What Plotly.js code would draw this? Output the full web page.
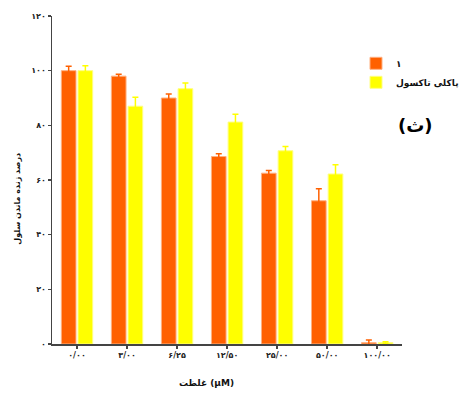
<!DOCTYPE html>
<html><head><meta charset="utf-8">
<script src="https://cdn.plot.ly/plotly-3.0.1.min.js"></script>
<style>html,body{margin:0;padding:0;background:#fff;}#chart{width:464px;height:393px;}</style>
</head><body><div id="chart"></div>
<script>
const categories = ["۰/۰۰", "۳/۰۰", "۶/۲۵", "۱۲/۵۰", "۲۵/۰۰", "۵۰/۰۰", "۱۰۰/۰۰"];
const series1Name = "۱";
const series1Values = [100, 98, 90, 68.6, 62.5, 52.4, 0.5];
const series1Errors = [1.6, 0.7, 1.5, 1.0, 1.0, 4.4, 1.0];
const series2Name = "پاکلی تاکسول";
const series2Values = [100, 87, 93.4, 81.2, 70.7, 62.2, 0.5];
const series2Errors = [1.8, 3.3, 2.1, 2.9, 1.6, 3.4, 0.3];
const yTickVals = [0, 20, 40, 60, 80, 100, 120];
const yTickText = ["۰", "۲۰", "۴۰", "۶۰", "۸۰", "۱۰۰", "۱۲۰"];
const xTitle = "غلظت (μM)";
const yTitle = "درصد زنده ماندن سلول";
const panelLabel = "(ث)";

const fontFam = "DejaVu Sans, sans-serif";
const orange = "#FF6000", yellow = "#FFFF00";

const traces = [
  {type: "bar", name: series1Name, x: categories, y: series1Values,
   marker: {color: orange, line: {color: "#FFB080", width: 1}},
   error_y: {type: "data", array: series1Errors, visible: true, color: orange, thickness: 1.5, width: 3}},
  {type: "bar", name: series2Name, x: categories, y: series2Values,
   marker: {color: yellow, line: {color: "#FFFF80", width: 1}},
   error_y: {type: "data", array: series2Errors, visible: true, color: yellow, thickness: 1.5, width: 3}}
];

const layout = {
  width: 464, height: 393,
  margin: {l: 52, r: 0, t: 16, b: 49},
  paper_bgcolor: "#fff", plot_bgcolor: "#fff",
  barmode: "group", bargap: 0.333, bargroupgap: 0.12,
  showlegend: true,
  legend: {x: 0.755, y: 0.9, xanchor: "left", yanchor: "top", bgcolor: "rgba(0,0,0,0)",
    font: {family: fontFam, size: 9, color: "#111", weight: "bold"}, tracegroupgap: 0, itemwidth: 30},
  xaxis: {domain: [0, 0.869], type: "category", range: [-0.5, 6.5], showline: true, linecolor: "#444", linewidth: 1.5,
    ticks: "outside", ticklen: 3, tickcolor: "#444", tickwidth: 1.5,
    tickfont: {family: fontFam, size: 8, color: "#222", weight: "bold"}, showgrid: false, zeroline: false, fixedrange: true},
  yaxis: {range: [0, 120], tickvals: yTickVals, ticktext: yTickText, showline: true, linecolor: "#444", linewidth: 1.5,
    ticks: "outside", ticklen: 3, tickcolor: "#444", tickwidth: 1.5,
    tickfont: {family: fontFam, size: 8, color: "#222", weight: "bold"}, showgrid: false, zeroline: false, fixedrange: true},
  annotations: [
    {text: xTitle, xref: "paper", yref: "paper", x: (210 - 52) / 412, y: -(383 - 344) / 328, xanchor: "center", yanchor: "middle",
     showarrow: false, font: {family: fontFam, size: 9, color: "#111", weight: "bold"}},
    {text: yTitle, xref: "paper", yref: "paper", x: -(52 - 17) / 412, y: (344 - 199) / 328, xanchor: "center", yanchor: "middle",
     textangle: -90, showarrow: false, font: {family: fontFam, size: 8, color: "#111", weight: "bold"}},
    {text: panelLabel, xref: "paper", yref: "paper", x: (424 - 52) / 412, y: (344 - 126) / 328, xanchor: "center", yanchor: "middle",
     showarrow: false, font: {family: fontFam, size: 18, color: "#000", weight: "bold"}}
  ]
};

Plotly.newPlot("chart", traces, layout, {displayModeBar: false, staticPlot: true});
</script>
</body></html>
